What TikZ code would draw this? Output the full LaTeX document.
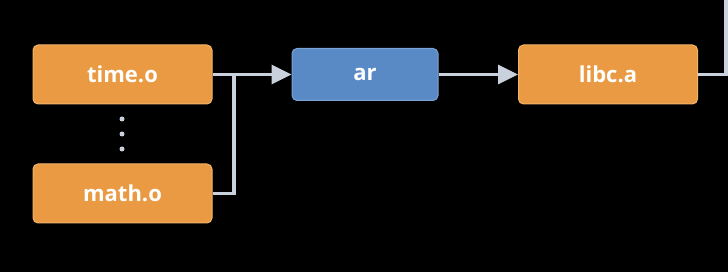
\documentclass[tikz,border=0pt]{standalone}
\usepackage{fontspec}
\setmainfont{Open Sans}
\usetikzlibrary{arrows.meta}
\definecolor{boxorange}{HTML}{E99A42}
\definecolor{edgeorange}{HTML}{F2B46A}
\definecolor{boxblue}{HTML}{5A8AC6}
\definecolor{edgeblue}{HTML}{7AA3D6}
\definecolor{wire}{HTML}{C9D1DC}
\begin{document}
\begin{tikzpicture}[x=1pt,y=-1pt,
  filebox/.style={draw=edgeorange,fill=boxorange,line width=1pt,rounded corners=5pt,
    minimum width=179pt,minimum height=59pt,text=white,
    font=\fontsize{22}{26}\selectfont\bfseries},
  toolbox/.style={draw=edgeblue,fill=boxblue,line width=1pt,rounded corners=5pt,
    minimum width=146pt,minimum height=52pt,text=white,
    font=\fontsize{22}{26}\selectfont\bfseries},
  wireline/.style={draw=wire,line width=3.2pt},
  flow/.style={wireline,-{Triangle[length=20pt,width=19pt]}},
  dot/.style={circle,fill=wire,inner sep=0pt,minimum size=5pt}]
  \fill[black] (0,0) rectangle (728,272);
  \useasboundingbox (0,0) rectangle (728,272);

  \node[filebox] (time) at (122.5,74.5) {time.o};
  \node[filebox] (math) at (122.5,193.5) {math.o};
  \node[toolbox] (ar) at (365,74.5) {ar};
  \node[filebox] (libc) at (608,74.5) {libc.a};

  \node[dot] (d1) at (122,119) {};
  \node[dot] (d2) at (122,134) {};
  \node[dot] (d3) at (122,149) {};

  \coordinate (join) at (234,74.5);
  \coordinate (up) at (726,-2);

  \draw[flow] (time.east) -- (ar.west);
  \draw[wireline] (math.east) -| (join);
  \draw[flow] (ar.east) -- (libc.west);
  \draw[wireline] (libc.east) -| (up);
\end{tikzpicture}
\end{document}
